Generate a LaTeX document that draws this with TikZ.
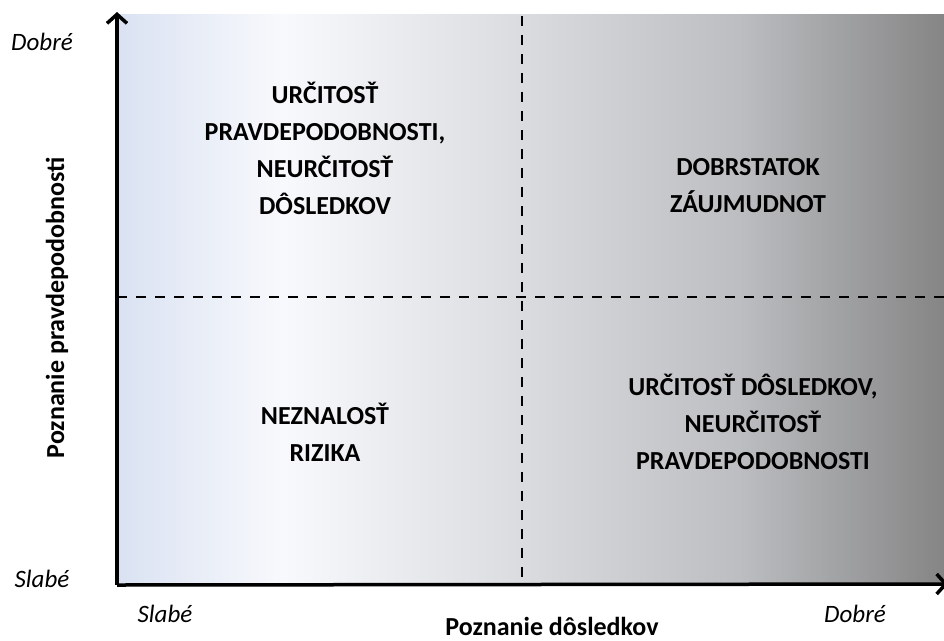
\documentclass[tikz,border=0pt]{standalone}
\usepackage{fontspec}
\setmainfont{Carlito}
\usetikzlibrary{arrows.meta}
\definecolor{fieldA}{HTML}{DAE2F2}
\definecolor{fieldB}{HTML}{F8F9FC}
\definecolor{fieldC}{HTML}{DFE0E3}
\definecolor{fieldD}{HTML}{BCBEC1}
\definecolor{fieldE}{HTML}{858585}
% horizontal fill of the quadrant field: pale blue, white, then greys
\pgfdeclarehorizontalshading{fieldshade}{100bp}{%
  color(0bp)=(fieldA); color(25bp)=(fieldA); color(35bp)=(fieldB);
  color(47.5bp)=(fieldC); color(62.5bp)=(fieldD); color(75bp)=(fieldE);
  color(100bp)=(fieldE)}
\begin{document}
\begin{tikzpicture}[x=1pt,y=-1pt,
  axis/.style={line width=3.5pt,-{Straight Barb[length=9pt,width=20pt,line width=3.5pt]}},
  divider/.style={line width=2pt,dash pattern=on 10pt off 9pt},
  quad/.style={font=\fontsize{26}{37}\selectfont\bfseries,align=center},
  tick/.style={font=\fontsize{25}{28}\selectfont\itshape},
  axislabel/.style={font=\fontsize{26}{28}\selectfont\bfseries}]
\useasboundingbox (0,0) rectangle (944,640);
% shaded field
\shade[shading=fieldshade] (118,14) rectangle (944,584);
% dashed dividers
\coordinate (vtop) at (522,16);
\coordinate (vbot) at (522,584);
\coordinate (hleft) at (117,297);
\coordinate (hright) at (944,297);
\draw[divider] (vtop) -- (vbot);
\draw[divider] (hleft) -- (hright);
% axes
\coordinate (origin) at (117,585);
\coordinate (ytip) at (117,12);
\coordinate (xtip) at (948,584);
\draw[axis] (origin) -- (ytip);
\draw[axis] (origin) -- (xtip);
% quadrant texts
\node[quad] (q1) at (325,148) {URČITOSŤ\\PRAVDEPODOBNOSTI,\\NEURČITOSŤ\\DÔSLEDKOV};
\node[quad] (q2) at (748,186) {DOBRSTATOK\\ZÁUJMUDNOT};
\node[quad] (q3) at (325,432) {NEZNALOSŤ\\RIZIKA};
\node[quad] (q4) at (753,422) {URČITOSŤ DÔSLEDKOV,\\NEURČITOSŤ\\PRAVDEPODOBNOSTI};
% scale marks
\node[tick,anchor=base] (ygood) at (42,50) {Dobré};
\node[tick] (ypoor) at (42,579) {Slabé};
\node[tick,anchor=base] (xpoor) at (165,622) {Slabé};
\node[tick,anchor=base] (xgood) at (855,622) {Dobré};
% axis titles
\node[axislabel,anchor=base,inner sep=0pt] (xlabel) at (552,635) {Poznanie dôsledkov};
\node[axislabel,rotate=90] (ylabel) at (57,308) {Poznanie pravdepodobnosti};
\end{tikzpicture}
\end{document}
